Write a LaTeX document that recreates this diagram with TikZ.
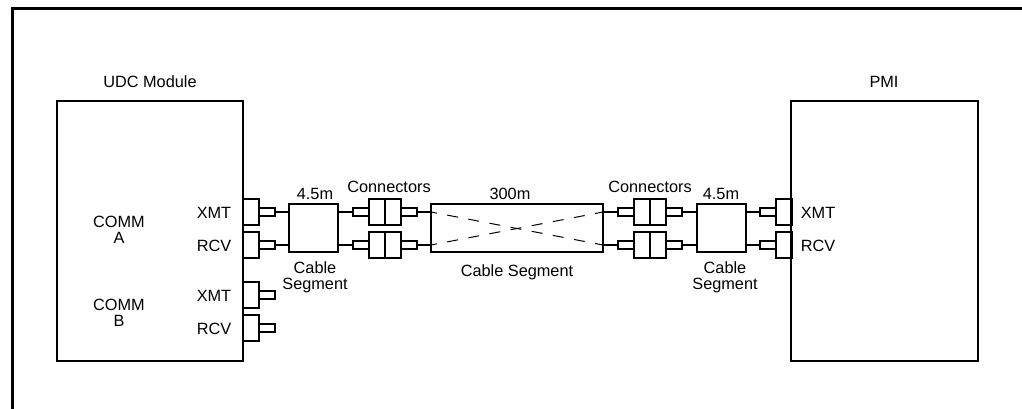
\documentclass[tikz,border=0pt]{standalone}
\usepackage{fontspec}
\setmainfont{Liberation Sans}
\tikzset{
  every node/.style={inner sep=0pt, outer sep=0pt},
  box/.style={draw, line width=2pt},
  modulebox/.style={box, minimum width=186pt, minimum height=260pt},
  portbox/.style={box, minimum width=16pt, minimum height=26pt},
  plugbox/.style={box, minimum width=16pt, minimum height=8.5pt},
  cablebox/.style={box, minimum width=49pt, minimum height=48pt},
  longbox/.style={box, minimum width=172pt, minimum height=48pt},
  wire/.style={line width=2pt},
  crosswire/.style={line width=1pt, dash pattern=on 11pt off 10.5pt, dash phase=5pt},
  label/.style={font=\fontsize{16.3}{15.5}\selectfont, align=center}
}
\begin{document}
\begin{tikzpicture}[x=1pt, y=-1pt]
  \useasboundingbox (0,0) rectangle (1022,409);

  % Frame
  \draw[line width=3pt] (12.5,409) -- (12.5,8.5) -- (1022,8.5);

  % Modules
  \node[modulebox] (udc) at (150,231) {};
  \node[modulebox, minimum width=187pt] (pmi) at (884.5,231) {};
  \node[label] (udcname) at (150,82) {UDC Module};
  \node[label] (pminame) at (884,82) {PMI};
  \node[label] (comma) at (119,230) {COMM\\A};
  \node[label] (commb) at (119,313) {COMM\\B};

  % UDC ports
  \node[portbox] (xmtA) at (251,212) {};
  \node[portbox] (rcvA) at (251,245) {};
  \node[portbox] (xmtB) at (251,295) {};
  \node[portbox] (rcvB) at (251,328) {};
  \node[plugbox] (xmtAplug) at (267,212) {};
  \node[plugbox] (rcvAplug) at (267,245) {};
  \node[plugbox] (xmtBplug) at (267,295) {};
  \node[plugbox] (rcvBplug) at (267,328) {};
  \node[label] (xmtAname) at (214,213) {XMT};
  \node[label] (rcvAname) at (214,246) {RCV};
  \node[label] (xmtBname) at (214,296) {XMT};
  \node[label] (rcvBname) at (214,329) {RCV};

  % Left cable and connectors
  \node[cablebox] (cableL) at (313.5,228) {};
  \node[plugbox] (plugL1) at (361,212) {};
  \node[plugbox] (plugL2) at (361,245) {};
  \node[portbox] (connL1a) at (377,212) {};
  \node[portbox] (connL1b) at (393,212) {};
  \node[portbox] (connL2a) at (377,245) {};
  \node[portbox] (connL2b) at (393,245) {};
  \node[plugbox] (plugL3) at (409,212) {};
  \node[plugbox] (plugL4) at (409,245) {};
  \node[label] (lenL) at (315,194) {4.5m};
  \node[label] (connLname) at (389,187) {Connectors};
  \node[label] (cableLname) at (315,277.5) {Cable\\Segment};

  % Long cable
  \node[longbox] (cableM) at (517,228) {};
  \coordinate (inA) at (431,212);
  \coordinate (inB) at (431,245);
  \coordinate (outA) at (603,212);
  \coordinate (outB) at (603,245);
  \draw[crosswire] (inA) -- (outB);
  \draw[crosswire] (inB) -- (outA);
  \node[label] (lenM) at (510,194) {300m};
  \node[label] (cableMname) at (517,272.5) {Cable Segment};

  % Right cable and connectors
  \node[plugbox] (plugR1) at (626,212) {};
  \node[plugbox] (plugR2) at (626,245) {};
  \node[portbox] (connR1a) at (642,212) {};
  \node[portbox] (connR1b) at (658,212) {};
  \node[portbox] (connR2a) at (642,245) {};
  \node[portbox] (connR2b) at (658,245) {};
  \node[plugbox] (plugR3) at (674,212) {};
  \node[plugbox] (plugR4) at (674,245) {};
  \node[cablebox] (cableR) at (721.5,228) {};
  \node[label] (connRname) at (650,187) {Connectors};
  \node[label] (lenR) at (721,194) {4.5m};
  \node[label] (cableRname) at (725,277.5) {Cable\\Segment};

  % PMI ports
  \node[plugbox] (xmtPplug) at (768,212) {};
  \node[plugbox] (rcvPplug) at (768,245) {};
  \node[portbox] (xmtP) at (784,212) {};
  \node[portbox] (rcvP) at (784,245) {};
  \node[label] (xmtPname) at (818,213) {XMT};
  \node[label] (rcvPname) at (818,246) {RCV};

  % Wires
  \draw[wire] (xmtAplug) -- (cableL.west |- xmtAplug);
  \draw[wire] (rcvAplug) -- (cableL.west |- rcvAplug);
  \draw[wire] (cableL.east |- plugL1) -- (plugL1);
  \draw[wire] (cableL.east |- plugL2) -- (plugL2);
  \draw[wire] (plugL3) -- (inA);
  \draw[wire] (plugL4) -- (inB);
  \draw[wire] (outA) -- (plugR1);
  \draw[wire] (outB) -- (plugR2);
  \draw[wire] (plugR3) -- (cableR.west |- plugR3);
  \draw[wire] (plugR4) -- (cableR.west |- plugR4);
  \draw[wire] (cableR.east |- xmtPplug) -- (xmtPplug);
  \draw[wire] (cableR.east |- rcvPplug) -- (rcvPplug);
\end{tikzpicture}
\end{document}
